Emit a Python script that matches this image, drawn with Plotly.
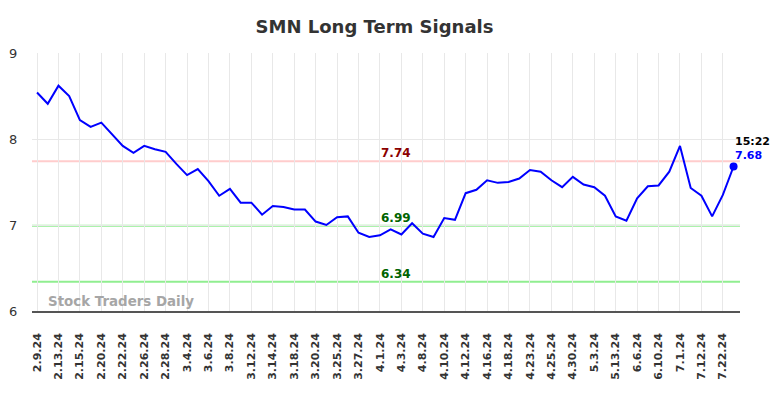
import plotly.graph_objects as go

dates = [
    "2.9.24", "2.12.24", "2.13.24", "2.14.24", "2.15.24", "2.16.24", "2.20.24", "2.21.24",
    "2.22.24", "2.23.24", "2.26.24", "2.27.24", "2.28.24", "2.29.24", "3.4.24", "3.5.24",
    "3.6.24", "3.7.24", "3.8.24", "3.11.24", "3.12.24", "3.13.24", "3.14.24", "3.15.24",
    "3.18.24", "3.19.24", "3.20.24", "3.21.24", "3.25.24", "3.26.24", "3.27.24", "3.28.24",
    "4.1.24", "4.2.24", "4.3.24", "4.5.24", "4.8.24", "4.9.24", "4.10.24", "4.11.24",
    "4.12.24", "4.15.24", "4.16.24", "4.17.24", "4.18.24", "4.22.24", "4.23.24", "4.24.24",
    "4.25.24", "4.29.24", "4.30.24", "5.2.24", "5.3.24", "5.10.24", "5.13.24", "6.5.24",
    "6.6.24", "6.7.24", "6.10.24", "6.28.24", "7.1.24", "7.11.24", "7.12.24", "7.19.24",
    "7.22.24", "7.24.24",
]
prices = [
    8.54, 8.41, 8.62, 8.50, 8.22, 8.14, 8.19, 8.06,
    7.92, 7.84, 7.92, 7.88, 7.85, 7.71, 7.58, 7.65,
    7.51, 7.34, 7.42, 7.26, 7.26, 7.12, 7.22, 7.21,
    7.18, 7.18, 7.04, 7.00, 7.09, 7.10, 6.91, 6.86,
    6.88, 6.95, 6.89, 7.02, 6.90, 6.86, 7.08, 7.06,
    7.37, 7.41, 7.52, 7.49, 7.50, 7.54, 7.64, 7.62,
    7.52, 7.44, 7.56, 7.47, 7.44, 7.34, 7.10, 7.05,
    7.31, 7.45, 7.46, 7.62, 7.92, 7.43, 7.34, 7.10,
    7.35, 7.68,
]
tick_labels = dates[0:65:2]
resistance_levels = [7.74]
support_levels = [6.99, 6.34]
y_ticks = [6, 7, 8, 9]
last_time = "15:22"
title_text = "SMN Long Term Signals"
watermark = "Stock Traders Daily"

FONT = "DejaVu Sans"

fig = go.Figure()
fig.add_trace(go.Scatter(
    x=dates, y=prices, mode="lines",
    line=dict(color="#0000ff", width=2), hoverinfo="skip", showlegend=False,
))
fig.add_trace(go.Scatter(
    x=[dates[-1]], y=[prices[-1]], mode="markers",
    marker=dict(color="#0000ff", size=8), hoverinfo="skip", showlegend=False,
))

for lvl in resistance_levels:
    fig.add_shape(type="line", xref="paper", x0=0, x1=1, yref="y", y0=lvl, y1=lvl,
                  line=dict(color="#ffcccc", width=2), layer="below")
    fig.add_annotation(x=0.514, xref="paper", y=lvl, yref="y", text=f"<b>{lvl:.2f}</b>",
                       showarrow=False, yanchor="bottom", yshift=-1,
                       font=dict(family=FONT, size=12, color="#8b0000"))
for lvl in support_levels:
    fig.add_shape(type="line", xref="paper", x0=0, x1=1, yref="y", y0=lvl, y1=lvl,
                  line=dict(color="#90ee90", width=2), layer="below")
    fig.add_annotation(x=0.514, xref="paper", y=lvl, yref="y", text=f"<b>{lvl:.2f}</b>",
                       showarrow=False, yanchor="bottom", yshift=-1,
                       font=dict(family=FONT, size=12, color="#006400"))

fig.add_annotation(x=dates[-1], y=prices[-1], text=f"<b>{prices[-1]:.2f}</b>",
                   showarrow=False, xanchor="left", yanchor="middle", yshift=11, xshift=-1,
                   font=dict(family=FONT, size=11, color="#0000ff"))
fig.add_annotation(x=dates[-1], y=prices[-1], text=f"<b>{last_time}</b>",
                   showarrow=False, xanchor="left", yanchor="middle", yshift=25, xshift=-1,
                   font=dict(family=FONT, size=11, color="#000000"))

fig.add_annotation(x=0.0195, xref="paper", y=0.0, yref="paper", text=f"<b>{watermark}</b>",
                   showarrow=False, xanchor="left", yanchor="bottom", yshift=0,
                   font=dict(family=FONT, size=13.4, color="#a6a6a6"))

fig.update_layout(
    width=784, height=398,
    margin=dict(l=24, r=52, t=45, b=95),
    paper_bgcolor="#ffffff", plot_bgcolor="#ffffff",
    title=dict(text=f"<b>{title_text}</b>", x=0.4675, xanchor="center", y=0.952, yanchor="middle",
               font=dict(family=FONT, size=18, color="#333333")),
    font=dict(family=FONT, color="#333333"),
    showlegend=False,
)
fig.update_xaxes(
    type="category", range=[-0.47, 65.6], automargin=False,
    tickmode="array", tickvals=tick_labels, ticktext=[f"<b>{t}</b>" for t in tick_labels],
    tickangle=-90, tickfont=dict(family=FONT, size=11, color="#333333"),
    showgrid=True, gridcolor="#e8e8e8", gridwidth=1,
    showline=True, linecolor="#555555", linewidth=1.5,
    ticks="outside", ticklen=16, tickcolor="rgba(0,0,0,0)",
    zeroline=False,
)
fig.update_yaxes(
    range=[6, 9], tickvals=y_ticks, ticktext=[str(v) for v in y_ticks], automargin=False,
    tickfont=dict(family=FONT, size=13, color="#333333"),
    showgrid=True, gridcolor="#e8e8e8", gridwidth=1,
    ticks="outside", ticklen=11, tickcolor="rgba(0,0,0,0)",
    zeroline=False, showline=False,
)

fig.write_html("out.html")
